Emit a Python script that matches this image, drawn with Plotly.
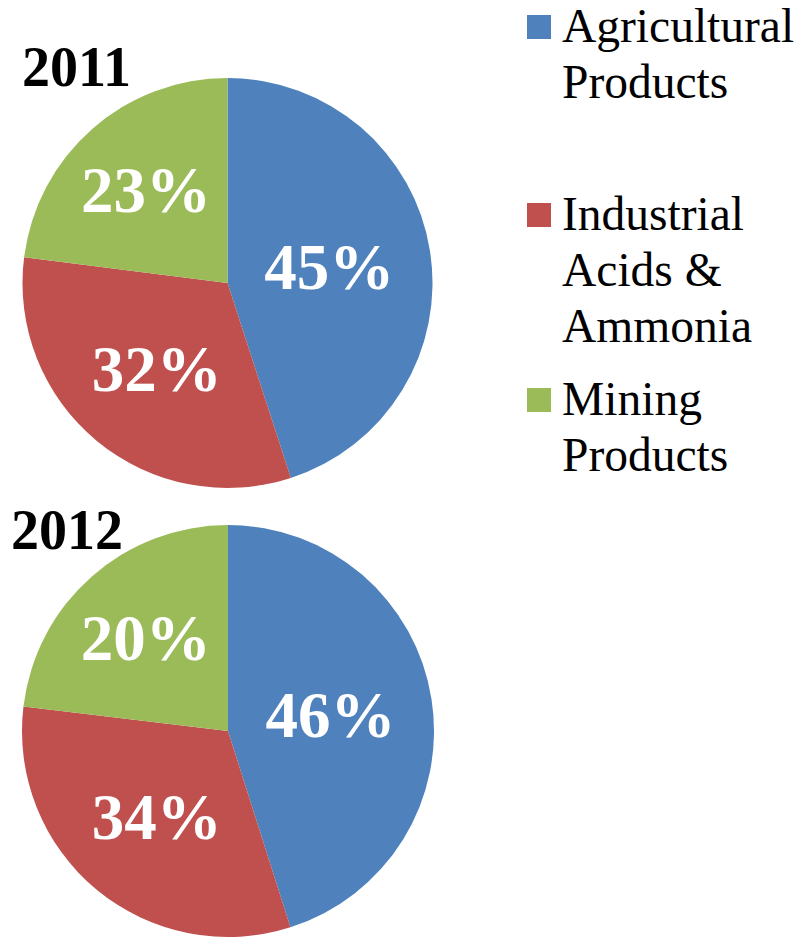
import plotly.graph_objects as go

W, H = 811, 937

categories = ["Agricultural<br>Products", "Industrial<br>Acids &<br>Ammonia", "Mining<br>Products"]
colors = ["#4F81BD", "#C0504D", "#9BBB59"]

years = ["2011", "2012"]
values_2011 = [45, 32, 23]
labels_2011 = ["45%", "32%", "23%"]
values_2012 = [45.1, 31.8, 23.1]
labels_2012 = ["46%", "34%", "20%"]

FONT = "Liberation Serif"


def px(x):
    return x / W


def py(y):
    return 1 - y / H


fig = go.Figure()

pie_specs = [
    (values_2011, labels_2011, [22, 433], [78, 488]),
    (values_2012, labels_2012, [20, 436], [525, 937]),
]

for vals, labs, dx, dy in pie_specs:
    fig.add_trace(go.Pie(
        labels=[c.replace("<br>", " ") for c in categories],
        values=vals,
        text=labs,
        textinfo="text",
        textposition="inside",
        insidetextorientation="horizontal",
        sort=False,
        direction="clockwise",
        rotation=0,
        marker=dict(colors=colors, line=dict(width=0)),
        textfont=dict(family=FONT, size=65, color="white", weight="bold"),
        domain=dict(x=[px(dx[0]), px(dx[1])], y=[py(dy[1]), py(dy[0])]),
        showlegend=False,
        hoverinfo="skip",
    ))

annotations = []
# Year titles
for yr, (xl, yc) in zip(years, [(20, 67), (9, 530)]):
    annotations.append(dict(
        text=yr, x=px(xl), y=py(yc), xref="paper", yref="paper",
        xanchor="left", yanchor="middle", showarrow=False,
        font=dict(family=FONT, size=56, color="black", weight="bold"),
    ))

# Legend (manual)
shapes = []
first_baselines = [42, 230, 415]
line_gap = 56
for cat, col, base in zip(categories, colors, first_baselines):
    sq_mid = base - 15
    shapes.append(dict(
        type="rect", xref="paper", yref="paper",
        x0=px(527), x1=px(551), y0=py(sq_mid + 12), y1=py(sq_mid - 12),
        fillcolor=col, line=dict(width=0),
    ))
    for i, line in enumerate(cat.split("<br>")):
        yc = base + i * line_gap - 16
        annotations.append(dict(
            text=line, x=px(560), y=py(yc), xref="paper", yref="paper",
            xanchor="left", yanchor="middle", showarrow=False,
            font=dict(family=FONT, size=47.5, color="black"),
        ))

fig.update_layout(
    width=W, height=H,
    margin=dict(l=0, r=0, t=0, b=0),
    paper_bgcolor="white", plot_bgcolor="white",
    annotations=annotations, shapes=shapes,
)

fig.write_html(
    "out.html",
    config={"displayModeBar": False},
    post_script="document.body.style.margin='0';document.body.style.overflow='hidden';",
)
